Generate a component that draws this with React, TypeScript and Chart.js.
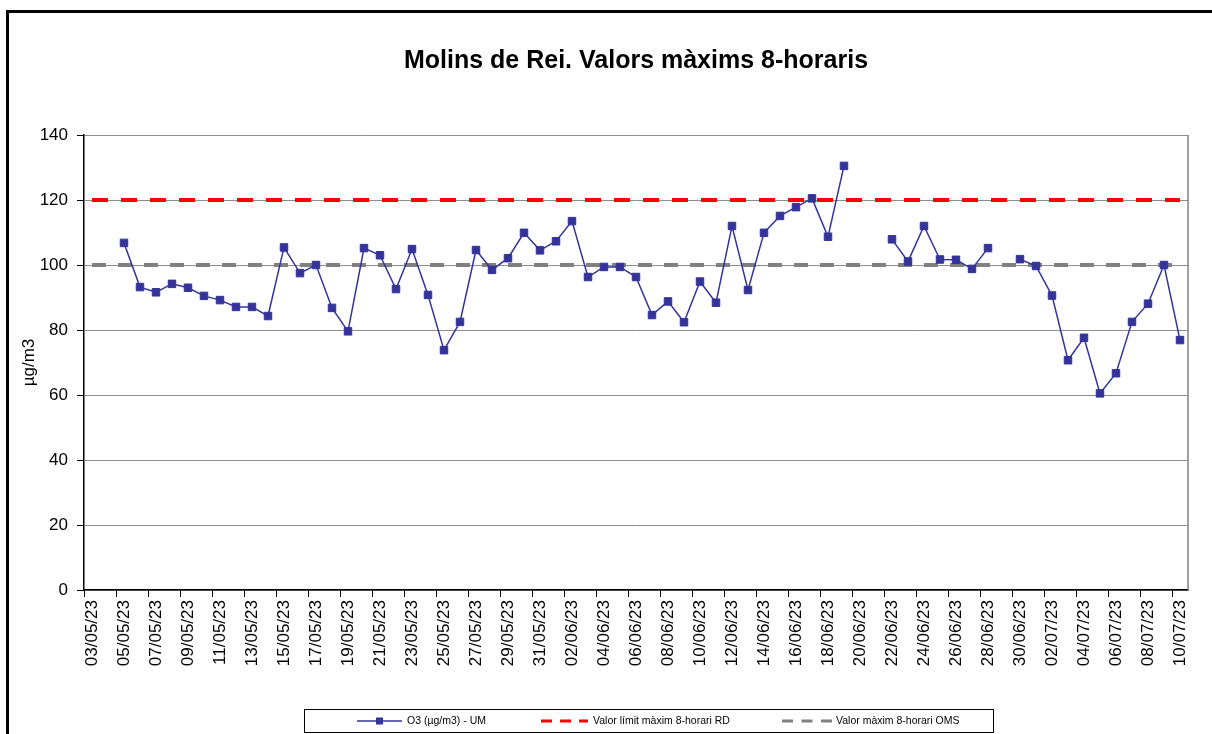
import { useEffect, useRef } from "react";
import { Chart, registerables } from "chart.js";

Chart.register(...registerables);

const FONT = "'Liberation Sans', Arial, Helvetica, sans-serif";

const categories = [
  "03/05/23", "04/05/23", "05/05/23", "06/05/23", "07/05/23", "08/05/23", "09/05/23", "10/05/23",
  "11/05/23", "12/05/23", "13/05/23", "14/05/23", "15/05/23", "16/05/23", "17/05/23", "18/05/23",
  "19/05/23", "20/05/23", "21/05/23", "22/05/23", "23/05/23", "24/05/23", "25/05/23", "26/05/23",
  "27/05/23", "28/05/23", "29/05/23", "30/05/23", "31/05/23", "01/06/23", "02/06/23", "03/06/23",
  "04/06/23", "05/06/23", "06/06/23", "07/06/23", "08/06/23", "09/06/23", "10/06/23", "11/06/23",
  "12/06/23", "13/06/23", "14/06/23", "15/06/23", "16/06/23", "17/06/23", "18/06/23", "19/06/23",
  "20/06/23", "21/06/23", "22/06/23", "23/06/23", "24/06/23", "25/06/23", "26/06/23", "27/06/23",
  "28/06/23", "29/06/23", "30/06/23", "01/07/23", "02/07/23", "03/07/23", "04/07/23", "05/07/23",
  "06/07/23", "07/07/23", "08/07/23", "09/07/23", "10/07/23",
];

const o3Values: (number | null)[] = [
  null, null, 106.8, 93.2, 91.6, 94.2, 93.0, 90.5,
  89.2, 87.1, 87.1, 84.3, 105.4, 97.5, 100.0, 86.8,
  79.6, 105.2, 103.0, 92.6, 104.9, 90.8, 73.8, 82.5,
  104.6, 98.5, 102.1, 109.9, 104.5, 107.3, 113.5, 96.3,
  99.4, 99.4, 96.3, 84.6, 88.8, 82.4, 94.9, 88.4,
  112.0, 92.3, 109.9, 115.1, 117.8, 120.5, 108.7, 130.5,
  null, null, 107.9, 101.1, 112.0, 101.7, 101.6, 98.8,
  105.2, null, 101.8, 99.7, 90.6, 70.7, 77.6, 60.5,
  66.7, 82.5, 88.1, 100.0, 76.9,
];

const rdLimit = 120;
const omsLimit = 100;

const yMin = 0;
const yMax = 140;
const yStep = 20;

const seriesLabels = [
  "O3 (µg/m3) - UM",
  "Valor límit màxim 8-horari RD",
  "Valor màxim 8-horari OMS",
];

const titleText = "Molins de Rei. Valors màxims 8-horaris";
const yAxisTitle = "µg/m3";

const framePlugin = {
  id: "frame",
  beforeDraw(chart: any) {
    const { ctx, width, height } = chart;
    ctx.save();
    ctx.fillStyle = "#ffffff";
    ctx.fillRect(0, 0, width, height);
    ctx.lineWidth = 3;
    ctx.strokeStyle = "#000000";
    ctx.strokeRect(7.5, 11.5, width + 40, height + 40);
    ctx.restore();
  },
  beforeDatasetsDraw(chart: any) {
    const { ctx, chartArea } = chart;
    ctx.save();
    ctx.strokeStyle = "#808080";
    ctx.lineWidth = 1.5;
    ctx.beginPath();
    ctx.moveTo(chartArea.right, chartArea.top);
    ctx.lineTo(chartArea.right, chartArea.bottom);
    ctx.stroke();
    ctx.restore();
  },
};

const legendBox = { x: 304.5, y: 709.5, w: 689, h: 23 };
const legendItems = [
  { x1: 357, x2: 402, tx: 407, dash: [] as number[], lw: 1.5, marker: true },
  { x1: 541, x2: 588, tx: 593, dash: [11, 8], lw: 3, marker: false },
  { x1: 782, x2: 832, tx: 836, dash: [11, 8.5], lw: 3, marker: false },
];

const legendPlugin = {
  id: "boxLegend",
  afterDraw(chart: any) {
    const { ctx } = chart;
    const ds = chart.data.datasets;
    ctx.save();
    ctx.strokeStyle = "#000000";
    ctx.lineWidth = 1;
    ctx.strokeRect(legendBox.x, legendBox.y, legendBox.w, legendBox.h);
    const cy = legendBox.y + legendBox.h / 2;
    legendItems.forEach((it, i) => {
      const d = ds[i];
      ctx.strokeStyle = d.borderColor;
      ctx.lineWidth = it.lw;
      ctx.setLineDash(it.dash);
      ctx.beginPath();
      ctx.moveTo(it.x1, cy);
      ctx.lineTo(it.x2, cy);
      ctx.stroke();
      ctx.setLineDash([]);
      if (it.marker) {
        ctx.fillStyle = d.backgroundColor;
        const mx = (it.x1 + it.x2) / 2;
        ctx.fillRect(mx - 3.5, cy - 3.5, 7, 7);
      }
      ctx.fillStyle = "#000000";
      ctx.font = `10.5px ${FONT}`;
      ctx.textBaseline = "middle";
      ctx.textAlign = "left";
      ctx.fillText(d.label, it.tx, cy);
    });
    ctx.restore();
  },
};

export default function App() {
  const canvasRef = useRef<HTMLCanvasElement | null>(null);

  useEffect(() => {
    if (!canvasRef.current) return;
    const chart = new Chart(canvasRef.current, {
      type: "line",
      data: {
        labels: categories,
        datasets: [
          {
            label: seriesLabels[0],
            data: o3Values,
            borderColor: "#333399",
            backgroundColor: "#333399",
            borderWidth: 1.5,
            pointStyle: "rect",
            pointRadius: 5.3,
            pointBorderWidth: 1,
            pointBackgroundColor: "#333399",
            pointBorderColor: "#333399",
            spanGaps: false,
            tension: 0,
          },
          {
            label: seriesLabels[1],
            data: categories.map(() => rdLimit),
            borderColor: "#FF0000",
            backgroundColor: "#FF0000",
            borderWidth: 4,
            borderDash: [16, 13],
            pointRadius: 0,
          },
          {
            label: seriesLabels[2],
            data: categories.map(() => omsLimit),
            borderColor: "#808080",
            backgroundColor: "#808080",
            borderWidth: 4,
            borderDash: [14, 12],
            pointRadius: 0,
          },
        ],
      },
      options: {
        animation: false,
        responsive: true,
        maintainAspectRatio: false,
        events: [],
        layout: { padding: { left: 0, right: 24, top: 0, bottom: 0 } },
        plugins: {
          legend: { display: false },
          tooltip: { enabled: false },
          title: {
            display: true,
            text: titleText,
            fullSize: false,
            color: "#000000",
            font: { family: FONT, size: 25, weight: "bold" },
            padding: { top: 46.5, bottom: 58.5 },
          },
        },
        scales: {
          x: {
            type: "category",
            offset: true,
            grid: {
              offset: true,
              drawOnChartArea: false,
              drawTicks: true,
              tickLength: 7,
              tickWidth: 1,
              tickColor: (c: any) => (c.index % 2 === 0 ? "#000000" : "rgba(0,0,0,0)"),
            },
            border: { color: "#000000", width: 1.5 },
            ticks: {
              autoSkip: false,
              maxRotation: 90,
              minRotation: 90,
              padding: 3,
              color: "#000000",
              font: { family: FONT, size: 17 },
              callback: (_v: any, i: number) => (i % 2 === 0 ? categories[i] : ""),
            },
            afterFit: (s: any) => {
              s.height = 144;
            },
          },
          y: {
            min: yMin,
            max: yMax,
            ticks: {
              stepSize: yStep,
              color: "#000000",
              padding: 9,
              font: { family: FONT, size: 17 },
            },
            grid: {
              color: "#8c8c8c",
              lineWidth: 1,
              tickColor: "#000000",
              tickLength: 7,
            },
            border: { color: "#000000", width: 1.5 },
            title: {
              display: true,
              text: yAxisTitle,
              color: "#000000",
              font: { family: FONT, size: 17 },
              padding: { top: 19, bottom: 0 },
            },
            afterFit: (s: any) => {
              s.width = 84;
            },
          },
        },
      },
      plugins: [framePlugin, legendPlugin],
    } as any);
    return () => chart.destroy();
  }, []);

  return (
    <div style={{ position: "fixed", left: 0, top: 0, width: 1212, height: 734, background: "#fff" }}>
      <canvas ref={canvasRef} />
    </div>
  );
}
